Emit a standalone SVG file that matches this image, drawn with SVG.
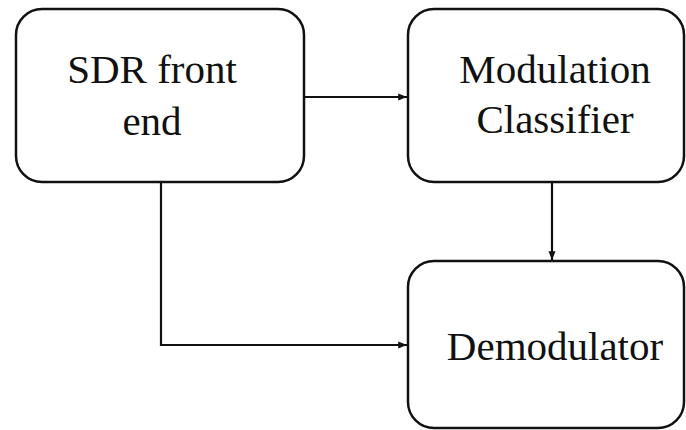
<svg xmlns="http://www.w3.org/2000/svg" width="686" height="430" viewBox="0 0 686 430">
  <style>
    .box { fill: #ffffff; stroke: #111111; stroke-width: 2.5; }
    .label { font-family: 'Liberation Serif', 'Times New Roman', serif; font-size: 41px; fill: #111111; text-anchor: middle; }
    .wire { fill: none; stroke: #111111; stroke-width: 2.2; }
  </style>
  <defs>
    <marker id="head" viewBox="0 0 10 10" refX="10" refY="5" markerWidth="4" markerHeight="4" orient="auto" markerUnits="strokeWidth">
      <path d="M0,1 L10,5 L0,9 Z" fill="#111111"/>
    </marker>
  </defs>

  <rect width="686" height="430" fill="#ffffff"/>

  <!-- connectors -->
  <g id="connectors">
    <path class="wire" d="M304,97 H407" marker-end="url(#head)"/>
    <path class="wire" d="M552,182 V260" marker-end="url(#head)"/>
    <path class="wire" d="M161,182 V345 H407" marker-end="url(#head)"/>
  </g>

  <g id="sdr-front-end">
    <rect class="box" x="16" y="9" width="288" height="173" rx="26" ry="26"/>
    <text class="label" x="152" y="83">SDR front</text>
    <text class="label" x="152" y="135">end</text>
  </g>

  <g id="modulation-classifier">
    <rect class="box" x="408" y="9" width="276" height="173" rx="26" ry="26"/>
    <text class="label" x="555" y="83">Modulation</text>
    <text class="label" x="555" y="133">Classifier</text>
  </g>

  <g id="demodulator">
    <rect class="box" x="408" y="261" width="276" height="167" rx="26" ry="26"/>
    <text class="label" x="555" y="360">Demodulator</text>
  </g>
</svg>
